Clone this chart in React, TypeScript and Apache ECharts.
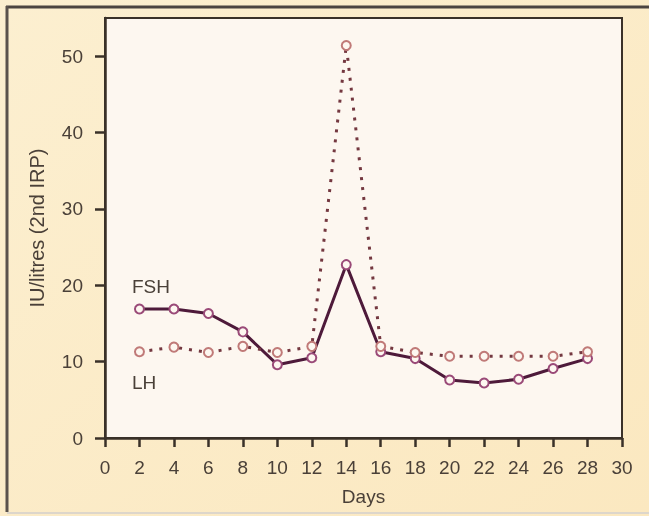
import React, { useEffect, useRef } from "react";
import * as echarts from "echarts";

const days = [2, 4, 6, 8, 10, 12, 14, 16, 18, 20, 22, 24, 26, 28];
const fshValues = [16.9, 16.9, 16.3, 13.9, 9.6, 10.5, 22.7, 11.3, 10.4, 7.6, 7.2, 7.7, 9.1, 10.4];
const lhValues = [11.3, 11.9, 11.2, 12.0, 11.2, 12.0, 51.4, 12.0, 11.2, 10.7, 10.7, 10.7, 10.7, 11.3];
const xTicks = [0, 2, 4, 6, 8, 10, 12, 14, 16, 18, 20, 22, 24, 26, 28, 30];
const yTicks = [0, 10, 20, 30, 40, 50];

const FONT = "'Liberation Sans', Arial, Helvetica, sans-serif";
const TEXT = "#4a4038";
const AXIS = "#3a3128";

export default function App() {
  const ref = useRef<HTMLDivElement>(null);
  useEffect(() => {
    if (!ref.current) return;
    const chart = echarts.init(ref.current, undefined, { renderer: "svg" });
    chart.setOption({
      animation: false,
      backgroundColor: "transparent",
      textStyle: { fontFamily: FONT },
      graphic: [
        {
          type: "rect",
          shape: { x: 0, y: 0, width: 649, height: 516 },
          style: {
            fill: new echarts.graphic.LinearGradient(0, 0, 1, 1, [
              { offset: 0, color: "#fcefd0" },
              { offset: 1, color: "#fbe8c0" },
            ]),
          },
          z: -10,
          silent: true,
        },
        {
          type: "line",
          shape: { x1: 6, y1: 7, x2: 649, y2: 7 },
          style: { stroke: "#4b4440", lineWidth: 3 },
          z: -5,
        },
        {
          type: "line",
          shape: { x1: 7, y1: 6, x2: 7, y2: 512 },
          style: { stroke: "#5a524c", lineWidth: 3 },
          z: -5,
        },
        {
          type: "line",
          shape: { x1: 7, y1: 513, x2: 649, y2: 513 },
          style: { stroke: "#ddd6cb", lineWidth: 2 },
          z: -5,
        },
        {
          type: "text",
          left: 132,
          top: 277,
          style: { text: "FSH", fontSize: 19, fontFamily: FONT, fill: TEXT },
        },
        {
          type: "text",
          left: 132,
          top: 373,
          style: { text: "LH", fontSize: 19, fontFamily: FONT, fill: TEXT },
        },
      ],
      grid: {
        left: 105,
        right: 27,
        top: 18,
        bottom: 78,
        show: true,
        backgroundColor: "#fdf7f0",
        borderColor: AXIS,
        borderWidth: 2,
      },
      xAxis: {
        type: "value",
        min: 0,
        max: 30,
        interval: 2,
        name: "Days",
        nameLocation: "middle",
        nameGap: 49,
        nameTextStyle: { fontSize: 19, color: TEXT, fontFamily: FONT },
        axisLine: { lineStyle: { color: AXIS, width: 2.5 } },
        axisTick: { show: true, inside: false, length: 9, lineStyle: { color: AXIS, width: 2.5 } },
        axisLabel: {
          margin: 20,
          fontSize: 19,
          color: TEXT,
          fontFamily: FONT,
          formatter: (v: number) => (xTicks.includes(v) ? String(v) : ""),
        },
        splitLine: { show: false },
      },
      yAxis: {
        type: "value",
        min: 0,
        max: 55,
        interval: 10,
        name: "IU/litres (2nd IRP)",
        nameLocation: "middle",
        nameGap: 58,
        nameRotate: 90,
        nameTextStyle: { fontSize: 20, color: TEXT, fontFamily: FONT },
        axisLine: { lineStyle: { color: AXIS, width: 2.5 } },
        axisTick: { show: true, inside: false, length: 10, lineStyle: { color: AXIS, width: 2.5 } },
        axisLabel: {
          margin: 22,
          fontSize: 19,
          color: TEXT,
          fontFamily: FONT,
          showMaxLabel: false,
          formatter: (v: number) => (yTicks.includes(v) ? String(v) : ""),
        },
        splitLine: { show: false },
      },
      series: [
        {
          name: "FSH",
          type: "line",
          data: days.map((d, i) => [d, fshValues[i]]),
          symbol: "circle",
          symbolSize: 9,
          lineStyle: { color: "#4e1a3a", width: 3 },
          itemStyle: { color: "#fdf7f0", borderColor: "#9a4a78", borderWidth: 2 },
          z: 3,
        },
        {
          name: "LH",
          type: "line",
          data: days.map((d, i) => [d, lhValues[i]]),
          symbol: "circle",
          symbolSize: 9,
          lineStyle: { color: "#743840", width: 3, type: [3, 7] },
          itemStyle: { color: "#fdf7f0", borderColor: "#c07a78", borderWidth: 2 },
          z: 4,
        },
      ],
    });
    return () => chart.dispose();
  }, []);
  return (
    <div
      ref={ref}
      style={{ position: "fixed", left: 0, top: 0, width: 649, height: 516 }}
    />
  );
}
